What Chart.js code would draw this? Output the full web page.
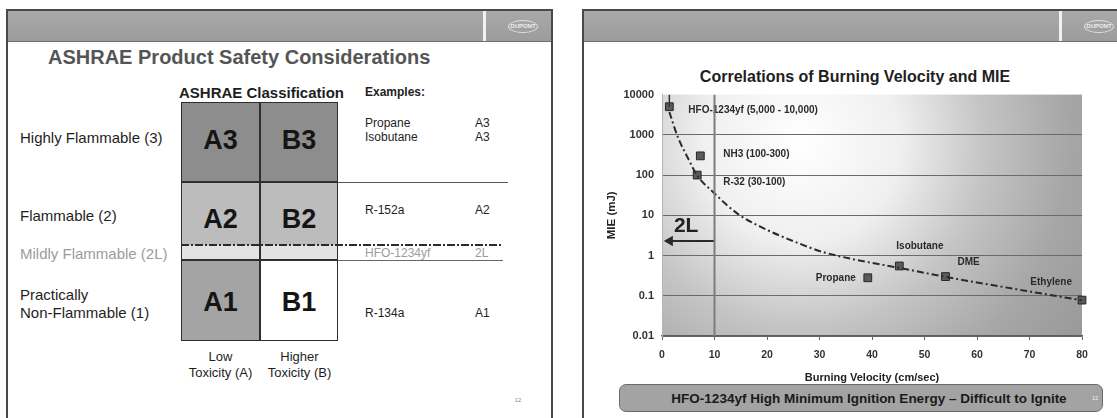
<!DOCTYPE html>
<html>
<head>
<title>Refrigerant Flammability</title>
<script src="https://cdn.jsdelivr.net/npm/chart.js@4.4.1/dist/chart.umd.min.js"></script>
<style>
    body {
        margin: 0;
        width: 1117px;
        height: 418px;
        overflow: hidden;
        position: relative;
        background: #fff;
        font-family: "Liberation Sans", Arial, sans-serif;
        color: #1e1e1e;
    }
    .slide {
        position: absolute;
        top: 9px;
        height: 430px;
        border: 2px solid #4a4a4a;
        border-bottom: none;
        box-sizing: border-box;
        background: #fff;
    }
    .header {
        position: absolute;
        left: 0; right: 0; top: 0;
        height: 30px;
        background: linear-gradient(#a9a9a9, #9c9c9c);
        border-bottom: 1px solid #707070;
    }
    .stripe { position: absolute; left: 475px; top: 0; width: 3px; height: 30px; background: #f2f2f2; }
    .logo {
        position: absolute; left: 500px; top: 9px;
        width: 28px; height: 11px;
        border: 1px solid #e0e0e0; border-radius: 50%;
        font: bold 6px "Liberation Sans", Arial, sans-serif;
        color: #eee; text-align: center; line-height: 11px;
    }
    .t { position: absolute; white-space: nowrap; transform: translateY(-50%); }
    .c { transform: translate(-50%, -50%); text-align: center; }
    .cell { position: absolute; }
    .code { font-weight: bold; font-size: 27px; color: #151515; }
    .hazard { font-size: 15px; }
    .ex { font-size: 12px; line-height: 14px; }
    .faint { color: #9c9c9c; }
    .rule { position: absolute; background: #555; }
    #chartWrap { position: absolute; left: 590px; top: 80px; width: 527px; height: 315px; }
    .banner {
        position: absolute; left: 619px; top: 384px; width: 484px; height: 28px;
        box-sizing: border-box; border: 1px solid #6a6a6a; border-radius: 7px;
        background: #a3a3a3;
    }
</style>
</head>
<body>
    <!-- left slide: ASHRAE safety groups -->
    <div class="slide" style="left:6px; width:547px;">
        <div class="header"><div class="stripe"></div><div class="logo">DUPONT</div></div>
    </div>
    <div class="t" style="left:48px; top:57px; font-weight:bold; font-size:20px; color:#555;">ASHRAE Product Safety Considerations</div>
    <div class="t" style="left:179px; top:92px; font-weight:bold; font-size:15px;">ASHRAE Classification</div>
    <div class="t" style="left:365px; top:92px; font-weight:bold; font-size:12px;">Examples:</div>

    <div class="t hazard" style="left:20px; top:137px;">Highly Flammable (3)</div>
    <div class="t hazard" style="left:20px; top:215px;">Flammable (2)</div>
    <div class="t hazard faint" style="left:20px; top:253px;">Mildly Flammable (2L)</div>
    <div class="t hazard" style="left:20px; top:304px; line-height:18px;">Practically<br>Non-Flammable (1)</div>

    <div class="cell" style="left:181px; top:102px; width:157px; height:80px; background:#8d8d8d;"></div>
    <div class="cell" style="left:181px; top:182px; width:157px; height:63px; background:#bcbcbc;"></div>
    <div class="cell" style="left:181px; top:245px; width:157px; height:15px; background:#e3e3e3;"></div>
    <div class="cell" style="left:181px; top:260px; width:79px; height:81px; background:#a4a4a4;"></div>
    <div class="cell" style="left:181px; top:102px; width:157px; height:239px; border:1.5px solid #2e2e2e; box-sizing:border-box;"></div>
    <div class="rule" style="left:259px; top:102px; width:1.5px; height:239px; background:#2e2e2e;"></div>
    <div class="rule" style="left:181px; top:181px; width:157px; height:1.5px; background:#2e2e2e;"></div>
    <div class="rule" style="left:338px; top:182px; width:170px; height:1px;"></div>
    <div class="rule" style="left:181px; top:259px; width:157px; height:1.5px; background:#2e2e2e;"></div>
    <div class="rule" style="left:338px; top:260px; width:165px; height:1px; background:#666;"></div>
    <div class="rule" style="left:181px; top:244px; width:322px; height:2px;
        background: repeating-linear-gradient(to right, #2a2a2a 0 8px, transparent 8px 10px, #2a2a2a 10px 12px, transparent 12px 14px);"></div>

    <div class="t c code" style="left:220.5px; top:140px;">A3</div>
    <div class="t c code" style="left:299px; top:140px;">B3</div>
    <div class="t c code" style="left:220.5px; top:219px;">A2</div>
    <div class="t c code" style="left:299px; top:219px;">B2</div>
    <div class="t c code" style="left:220.5px; top:302px;">A1</div>
    <div class="t c code" style="left:299px; top:302px;">B1</div>

    <div class="t ex" style="left:365px; top:130px;">Propane<br>Isobutane</div>
    <div class="t ex" style="left:475px; top:130px;">A3<br>A3</div>
    <div class="t ex" style="left:365px; top:210px;">R-152a</div>
    <div class="t ex" style="left:475px; top:210px;">A2</div>
    <div class="t ex faint" style="left:365px; top:253px;">HFO-1234yf</div>
    <div class="t ex faint" style="left:475px; top:253px;">2L</div>
    <div class="t ex" style="left:365px; top:313px;">R-134a</div>
    <div class="t ex" style="left:475px; top:313px;">A1</div>

    <div class="t c" style="left:220.5px; top:365px; font-size:13px; line-height:16px;">Low<br>Toxicity (A)</div>
    <div class="t c" style="left:299.5px; top:365px; font-size:13px; line-height:16px;">Higher<br>Toxicity (B)</div>
    <div class="t c" style="left:518px; top:400px; font-size:6px; color:#888;">12</div>

    <!-- right slide: burning velocity vs MIE -->
    <div class="slide" style="left:582px; width:560px;">
        <div class="header"><div class="stripe"></div><div class="logo">DUPONT</div></div>
    </div>
    <div class="t c" style="left:855px; top:77px; font-weight:bold; font-size:16px;">Correlations of Burning Velocity and MIE</div>
    <div id="chartWrap"><canvas id="mieChart"></canvas></div>
    <div class="banner"></div>
    <div class="t c" style="left:869px; top:398px; font-weight:bold; font-size:13.5px; color:#1a1a1a;">HFO-1234yf High Minimum Ignition Energy &ndash; Difficult to Ignite</div>
    <div class="t c" style="left:1095px; top:398px; font-size:6px; color:#eee;">12</div>

<script>
    // measured refrigerants: burning velocity (cm/sec) and minimum ignition energy (mJ)
    const refrigerants = ['HFO-1234yf (5,000 - 10,000)', 'NH3 (100-300)', 'R-32 (30-100)', 'Propane', 'Isobutane', 'DME', 'Ethylene'];
    const burningVelocity = [1.4, 7.3, 6.7, 39.2, 45.2, 54, 80];
    const minIgnitionEnergy = [5000, 300, 100, 0.28, 0.55, 0.3, 0.078];

    // HFO-1234yf upper range
    const hfoRangeVelocity = [1.4, 1.4];
    const hfoRangeEnergy = [5000, 10000];

    // trend curve through the data
    const trendVelocity = [1.4, 3, 5, 6.7, 10, 14.5, 19.6, 25.3, 30.5, 36.8, 45, 53.7, 60, 68.8, 80];
    const trendEnergy = [3700, 890, 255, 98, 35, 10.7, 4.6, 2.2, 1.24, 0.79, 0.5, 0.3, 0.214, 0.136, 0.077];

    // 2L limit (burning velocity <= 10 cm/sec)
    const limitVelocity = [10, 10];
    const limitEnergy = [0.01, 10000];
    const arrowVelocity = [10, 1.5];
    const arrowEnergy = [2.3, 2.3];
    const limitLabel = '2L';
    const limitLabelAt = [4.6, 5.4];

    // axis ticks
    const energyTicks = [0.01, 0.1, 1, 10, 100, 1000, 10000];
    const energyTickLabels = ['0.01', '0.1', '1', '10', '100', '1000', '10000'];

    const pairs = (xs, ys) => xs.map((x, i) => ({ x: x, y: ys[i] }));

    // where each point name sits relative to its marker
    const labelPlacement = [
        { dx: 19, dy: 4, align: 'left' },
        { dx: 23, dy: -2, align: 'left' },
        { dx: 26, dy: 7, align: 'left' },
        { dx: -12, dy: 0, align: 'right' },
        { dx: -3, dy: -20, align: 'left' },
        { dx: 12, dy: -14, align: 'left' },
        { dx: -10, dy: -18, align: 'right' }
    ];

    Chart.defaults.font.family = '"Liberation Sans", Arial, sans-serif';

    // shaded plot background
    const plotShade = {
        id: 'plotShade',
        beforeDraw(chart) {
            const { ctx, chartArea: a } = chart;
            const w = a.right - a.left, h = a.bottom - a.top;
            const g = ctx.createRadialGradient(a.left + w * 0.33, a.top + h * 0.2, 0, a.left + w * 0.33, a.top + h * 0.2, w * 0.8);
            g.addColorStop(0, '#ffffff');
            g.addColorStop(0.3, '#efefef');
            g.addColorStop(0.55, '#c4c4c4');
            g.addColorStop(0.8, '#a6a6a6');
            g.addColorStop(1, '#9a9a9a');
            ctx.save();
            ctx.fillStyle = g;
            ctx.fillRect(a.left, a.top, w, h);
            ctx.restore();
        }
    };

    // point names and the 2L tag
    const pointNames = {
        id: 'pointNames',
        beforeDatasetsDraw(chart) {
            const ctx = chart.ctx;
            const meta = chart.getDatasetMeta(3);
            ctx.save();
            ctx.fillStyle = '#2a2a2a';
            ctx.font = 'bold 10px "Liberation Sans", Arial, sans-serif';
            ctx.textBaseline = 'middle';
            meta.data.forEach((pt, i) => {
                const p = labelPlacement[i];
                ctx.textAlign = p.align;
                ctx.fillText(refrigerants[i], pt.x + p.dx, pt.y + p.dy);
            });
            const { x, y } = chart.scales;
            ctx.font = 'bold 21px "Liberation Sans", Arial, sans-serif';
            ctx.textAlign = 'center';
            ctx.fillStyle = '#222';
            ctx.fillText(limitLabel, x.getPixelForValue(limitLabelAt[0]), y.getPixelForValue(limitLabelAt[1]));
            ctx.restore();
        }
    };

    new Chart(document.getElementById('mieChart'), {
        data: {
            datasets: [
                {
                    type: 'line',
                    label: '2L limit',
                    data: pairs(limitVelocity, limitEnergy),
                    borderColor: '#7c7c7c',
                    borderWidth: 2,
                    pointRadius: 0
                },
                {
                    type: 'line',
                    label: 'Trend',
                    data: pairs(trendVelocity, trendEnergy),
                    borderColor: '#2b2b2b',
                    borderWidth: 2,
                    borderDash: [7, 3, 2, 3],
                    pointRadius: 0,
                    cubicInterpolationMode: 'monotone'
                },
                {
                    type: 'line',
                    label: 'HFO-1234yf range',
                    data: pairs(hfoRangeVelocity, hfoRangeEnergy),
                    borderColor: '#333',
                    borderWidth: 1.5,
                    pointRadius: 0
                },
                {
                    type: 'scatter',
                    label: 'MIE',
                    data: pairs(burningVelocity, minIgnitionEnergy),
                    pointStyle: 'rect',
                    pointRadius: 5.5,
                    backgroundColor: '#5a5a5a',
                    borderColor: '#262626',
                    borderWidth: 1,
                    clip: false
                },
                {
                    type: 'line',
                    label: '2L arrow',
                    data: pairs(arrowVelocity, arrowEnergy),
                    borderColor: '#2a2a2a',
                    backgroundColor: '#2a2a2a',
                    borderWidth: 2,
                    pointStyle: 'triangle',
                    pointRotation: 270,
                    pointRadius: [0, 4]
                }
            ]
        },
        options: {
            responsive: true,
            maintainAspectRatio: false,
            animation: false,
            layout: { padding: { top: 12, right: 35, bottom: 0, left: 0 } },
            plugins: {
                legend: { display: false },
                tooltip: { enabled: false }
            },
            scales: {
                x: {
                    type: 'linear',
                    min: 0,
                    max: 80,
                    afterFit: (s) => { s.height = 59; },
                    ticks: { stepSize: 10, color: '#333', font: { size: 10.5, weight: 'bold' }, padding: 9 },
                    grid: { drawOnChartArea: false, color: '#666', tickLength: 4 },
                    border: { color: '#5e5e5e', width: 1.5 },
                    title: {
                        display: true,
                        text: 'Burning Velocity (cm/sec)',
                        color: '#222',
                        font: { size: 11, weight: 'bold' },
                        padding: { top: 0, bottom: 10 }
                    }
                },
                y: {
                    type: 'logarithmic',
                    min: 0.01,
                    max: 10000,
                    afterFit: (s) => { s.width = 72; },
                    afterBuildTicks: (s) => { s.ticks = energyTicks.map(v => ({ value: v })); },
                    ticks: {
                        callback: (v, i) => energyTickLabels[i],
                        color: '#333',
                        font: { size: 11, weight: 'bold' },
                        padding: 8
                    },
                    grid: {
                        color: (c) => (c.tick && c.tick.value === 10000) ? 'rgba(0,0,0,0)' : '#6a6a6a',
                        drawTicks: false
                    },
                    border: { color: '#b5b5b5' },
                    title: {
                        display: true,
                        text: 'MIE (mJ)',
                        color: '#222',
                        font: { size: 11.5, weight: 'bold' },
                        padding: { top: 15, bottom: 0 }
                    }
                }
            }
        },
        plugins: [plotShade, pointNames]
    });
</script>
</body>
</html>
